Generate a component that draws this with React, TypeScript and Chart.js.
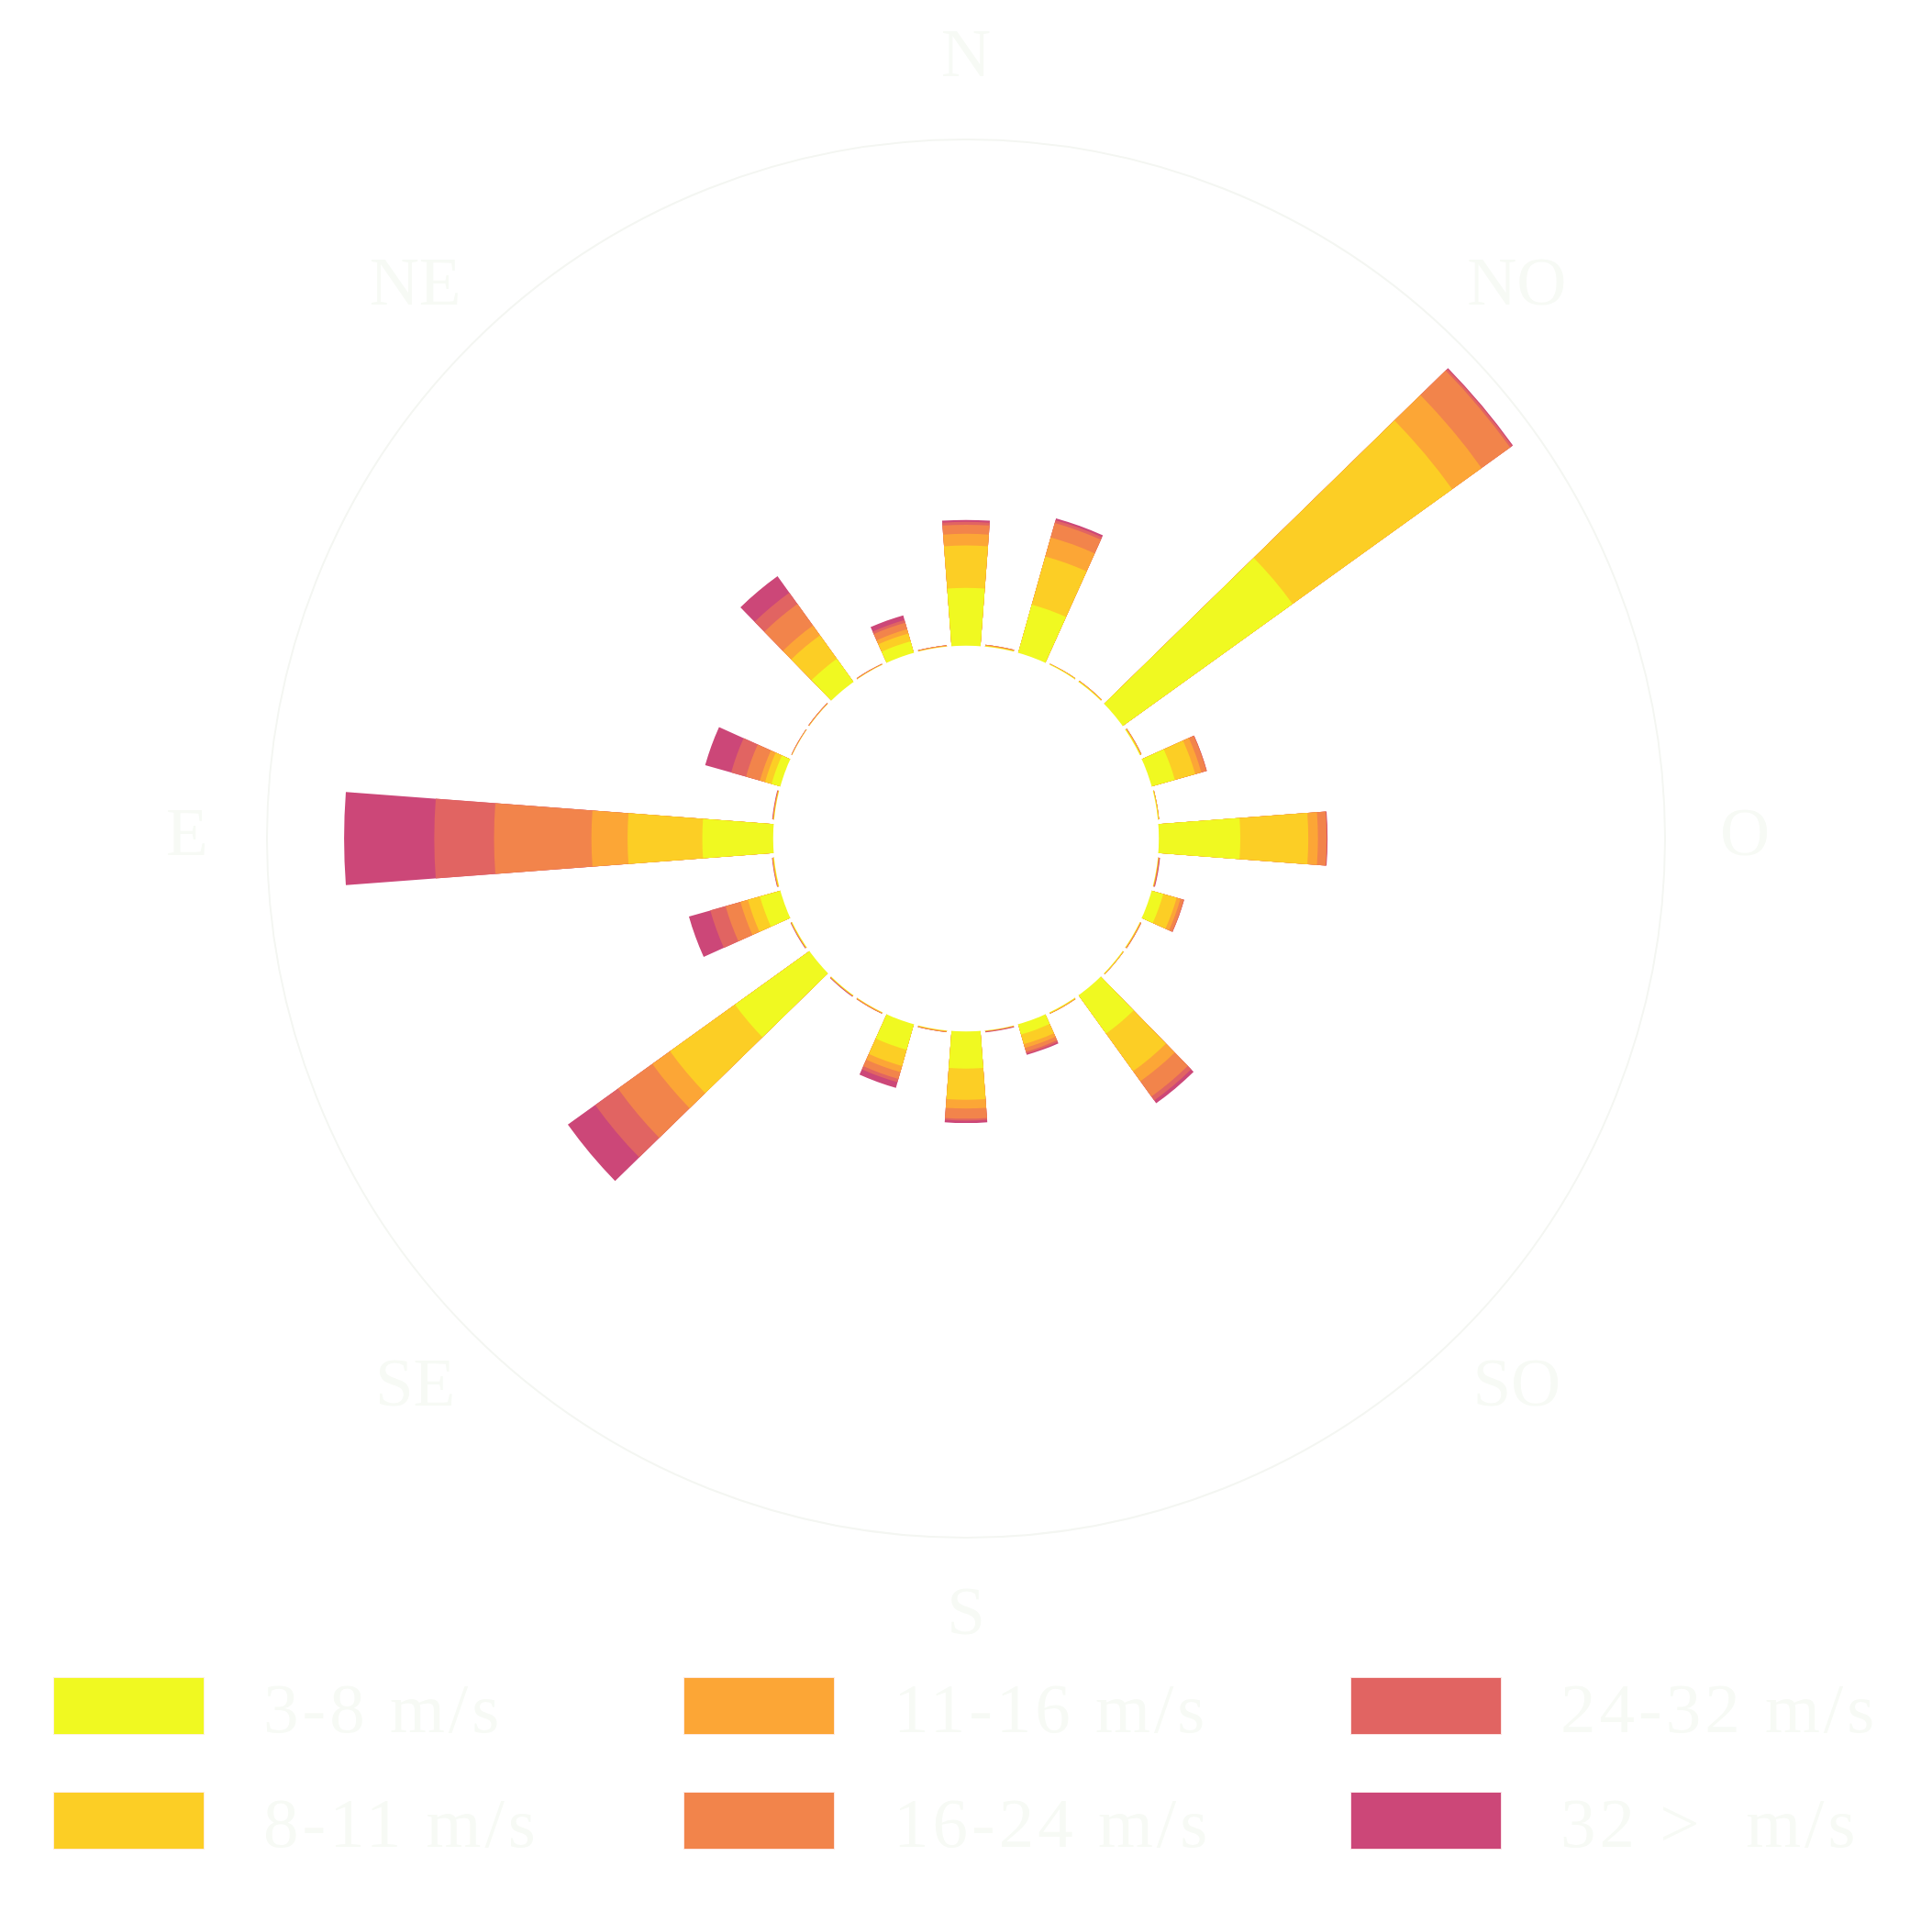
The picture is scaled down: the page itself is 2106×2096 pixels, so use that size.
import React, { useEffect, useRef } from 'react';
import { Chart, registerables } from 'chart.js';

Chart.register(...registerables);

// Compass direction of each bin (degrees, 10° bins), counter-clockwise layout (E on the left)
const DIRECTIONS = [0, 10, 20, 30, 40, 50, 60, 70, 80, 90, 100, 110, 120, 130, 140, 150, 160, 170,
  180, 190, 200, 210, 220, 230, 240, 250, 260, 270, 280, 290, 300, 310, 320, 330, 340, 350];

const SPEED_CLASSES = ['3-8 m/s', '8-11 m/s', '11-16 m/s', '16-24 m/s', '24-32 m/s', '32 >  m/s'];
const COLORS = ['#f0f921', '#fcce25', '#fca636', '#f2844b', '#e16462', '#cc4778'];

const COMPASS_LABELS = ['N', 'NE', 'E', 'SE', 'S', 'SO', 'O', 'NO'];
const COMPASS_ANGLES = [0, 45, 90, 135, 180, 225, 270, 315];

// frequency per direction for each speed class
const S_3_8 = [1.20, 0, 0.25, 0, 0.59, 0, 0, 0.19, 0.005, 1.47, 0.01, 0.44, 0.01, 1.90, 0.01, 0, 0.55, 0.005,
  0.77, 0.005, 0.22, 0.01, 0.98, 0.01, 0.005, 0.25, 0.005, 1.69, 0.01, 0.50, 0.015, 4.34, 0.01, 0.01, 1.04, 0.01];
const S_8_11 = [0.88, 0.01, 0.17, 0.005, 0.60, 0.005, 0, 0.14, 0.005, 1.55, 0.01, 0.26, 0.01, 1.66, 0.01, 0.01, 0.35, 0.01,
  0.65, 0.005, 0.21, 0.01, 0.96, 0.01, 0.01, 0.29, 0.005, 1.41, 0.01, 0.44, 0.01, 4.08, 0.01, 0.01, 1.04, 0.01];
const S_11_16 = [0.24, 0.01, 0.09, 0.01, 0.25, 0.01, 0.01, 0.11, 0.01, 0.75, 0.01, 0.16, 0.005, 0.45, 0, 0.01, 0.13, 0.01,
  0.18, 0, 0.08, 0.01, 0.26, 0.005, 0.01, 0.08, 0.005, 0.20, 0.005, 0.13, 0.01, 0.75, 0.01, 0.005, 0.41, 0.01];
const S_16_24 = [0.19, 0.01, 0.14, 0.01, 0.55, 0.01, 0.01, 0.30, 0.01, 2.02, 0.005, 0.32, 0, 0.88, 0.005, 0.01, 0.15, 0.01,
  0.21, 0.01, 0.08, 0, 0.39, 0, 0.01, 0.07, 0.01, 0.18, 0, 0.11, 0.005, 0.73, 0, 0, 0.31, 0.01];
const S_24_32 = [0.06, 0, 0.06, 0, 0.29, 0, 0, 0.32, 0, 1.24, 0, 0.33, 0.005, 0.58, 0.005, 0, 0.07, 0,
  0.04, 0.01, 0.04, 0, 0.10, 0, 0, 0.01, 0.01, 0.01, 0, 0.01, 0, 0.05, 0, 0, 0.06, 0];
const S_32_UP = [0.04, 0, 0.10, 0, 0.42, 0, 0, 0.56, 0.01, 1.87, 0.01, 0.46, 0.01, 0.70, 0.01, 0, 0.12, 0,
  0.05, 0.01, 0.03, 0, 0.07, 0, 0, 0, 0.01, 0.01, 0, 0, 0, 0.02, 0, 0, 0.04, 0];

const SERIES = [S_3_8, S_8_11, S_11_16, S_16_24, S_24_32, S_32_UP];

const R_MIN = -4;     // hole
const R_MAX = 10.5;
const BAR_DEG = 8.6;
const GAP_DEG = 1.4;

const FAINT = '#f7faf5';
const FONT = "'Liberation Serif', 'Times New Roman', serif";

const rosePlugin = {
  id: 'roseExtras',
  beforeDatasetsDraw(chart: any) {
    const s = chart.scales.r;
    const ctx = chart.ctx;
    ctx.save();
    ctx.beginPath();
    ctx.arc(s.xCenter, s.yCenter, s.getDistanceFromCenterForValue(s.max), 0, Math.PI * 2);
    ctx.strokeStyle = '#f4f6f2';
    ctx.lineWidth = 2;
    ctx.stroke();
    ctx.restore();
  },
  afterDatasetsDraw(chart: any) {
    const s = chart.scales.r;
    const ctx = chart.ctx;
    ctx.save();
    ctx.beginPath();
    ctx.arc(s.xCenter, s.yCenter, s.getDistanceFromCenterForValue(0), 0, Math.PI * 2);
    ctx.fillStyle = '#ffffff';
    ctx.fill();
    ctx.restore();
  },
  afterDraw(chart: any) {
    const s = chart.scales.r;
    const ctx = chart.ctx;
    ctx.save();
    ctx.fillStyle = FAINT;
    ctx.font = `75px ${FONT}`;
    ctx.textAlign = 'center';
    ctx.textBaseline = 'alphabetic';
    const R = s.drawingArea + 87;
    COMPASS_LABELS.forEach((lab, i) => {
      const th = ((360 - COMPASS_ANGLES[i]) % 360) * Math.PI / 180;
      const x = s.xCenter + R * Math.sin(th);
      const y = s.yCenter - R * Math.cos(th) - 7;
      ctx.fillText(lab, x, y + 25);
    });
    // legend (3 columns, column-major)
    const colX = [58, 745, 1472];
    const rowY = [1828, 1953];
    ctx.textAlign = 'left';
    chart.data.datasets.forEach((ds: any, j: number) => {
      const x = colX[Math.floor(j / 2)];
      const y = rowY[j % 2];
      ctx.fillStyle = COLORS[j];
      ctx.fillRect(x, y, 165, 63);
      ctx.strokeStyle = 'rgba(255,240,240,0.9)';
      ctx.lineWidth = 1;
      ctx.strokeRect(x + 0.5, y + 0.5, 164, 62);
      ctx.fillStyle = FAINT;
      ctx.font = `77px ${FONT}`;
      try { (ctx as any).letterSpacing = '4px'; } catch (e) { /* ignore */ }
      ctx.fillText(ds.label, x + 229, y + 60);
      try { (ctx as any).letterSpacing = '0px'; } catch (e) { /* ignore */ }
    });
    ctx.restore();
  },
};

export default function App() {
  const ref = useRef<HTMLCanvasElement | null>(null);

  useEffect(() => {
    if (!ref.current) return;
    document.body.style.margin = '0';
    document.body.style.overflow = 'hidden';
    const n = DIRECTIONS.length;
    // chart goes clockwise on screen; compass goes counter-clockwise -> reorder
    const order = Array.from({ length: n }, (_, k) => (n - k) % n);
    const labels: string[] = [];
    order.forEach((ci) => { labels.push(`${DIRECTIONS[ci]}°`); labels.push(''); });

    const datasets = SERIES.map((_, j) => {
      const data: number[] = [];
      const bg: string[] = [];
      order.forEach((ci) => {
        let cum = 0;
        for (let m = 0; m <= j; m++) cum += SERIES[m][ci];
        data.push(cum);
        bg.push(COLORS[j]);
        data.push(0);
        bg.push('rgba(0,0,0,0)');
      });
      return {
        label: SPEED_CLASSES[j],
        data,
        backgroundColor: bg,
        borderWidth: 0,
        angle: (c: any) => (c.dataIndex % 2 === 0 ? BAR_DEG : GAP_DEG),
      };
    });

    const chart = new Chart(ref.current, {
      type: 'polarArea',
      data: { labels, datasets },
      options: {
        responsive: false,
        animation: false,
        devicePixelRatio: 1,
        layout: { padding: { left: 291, right: 291, top: 152, bottom: 420 } },
        plugins: { legend: { display: false }, tooltip: { enabled: false } },
        scales: {
          r: {
            min: R_MIN,
            max: R_MAX,
            startAngle: -BAR_DEG / 2,
            grid: { display: false },
            angleLines: { display: false },
            pointLabels: { display: false },
            ticks: { display: false },
          },
        },
      } as any,
      plugins: [rosePlugin],
    });
    return () => chart.destroy();
  }, []);

  return (
    <div style={{ position: 'absolute', left: 0, top: 0, width: 2106, height: 2096, background: '#fff' }}>
      <canvas ref={ref} width={2106} height={2096} style={{ display: 'block' }} />
    </div>
  );
}
